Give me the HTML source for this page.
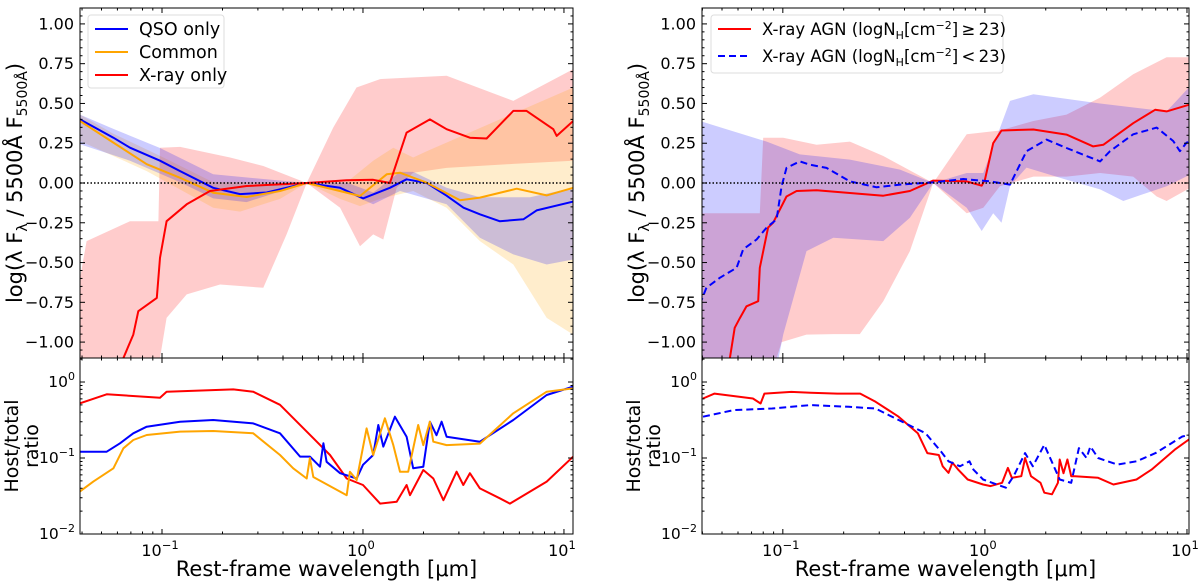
<!DOCTYPE html>
<html><head><meta charset="utf-8"><style>
html,body{margin:0;padding:0;background:#fff;}
svg{display:block;font-family:"DejaVu Sans","Liberation Sans",sans-serif;}
</style></head><body>
<svg id="fig" width="1200" height="586" viewBox="0 0 1200 586" xmlns="http://www.w3.org/2000/svg"></svg>
<script>
// ---- Left top panel data (x = log10 wavelength [um], y = log ratio) ----
const qsoX = [-1.408,-1.242,-1.159,-1.01,-0.91,-0.745,-0.612,-0.479,-0.28,-0.114,0.0,0.134,0.217,0.317,0.416,0.5,0.582,0.68,0.798,0.864,1.046];
const qsoY = [0.40,0.285,0.222,0.14,0.075,-0.03,-0.07,-0.06,0,-0.03,-0.097,-0.03,0.023,0,-0.08,-0.155,-0.197,-0.24,-0.228,-0.172,-0.117];
const comX = [-1.408,-1.242,-1.076,-0.91,-0.745,-0.579,-0.413,-0.28,-0.148,-0.015,0.118,0.184,0.317,0.483,0.582,0.765,0.914,1.046];
const comY = [0.39,0.254,0.118,0.033,-0.061,-0.088,-0.05,0,-0.04,-0.082,0.055,0.065,0.002,-0.109,-0.092,-0.036,-0.078,-0.03];
const xrX = [-1.192,-1.143,-1.118,-1.026,-1.01,-0.977,-0.877,-0.761,-0.579,-0.28,-0.081,0.051,0.134,0.217,0.333,0.416,0.532,0.615,0.748,0.814,0.947,0.964,1.046];
const xrY = [-1.1,-0.953,-0.806,-0.722,-0.47,-0.24,-0.134,-0.05,-0.019,0,0.017,0.02,0.0,0.317,0.40,0.338,0.285,0.28,0.453,0.453,0.338,0.296,0.39];
// bands
const qsoBandUpX = [-1.408,-1.242,-1.01,-0.745,-0.28,-0.081,0.051,0.184,0.25,0.416,0.582,0.831,1.046];
const qsoBandUpY = [0.43,0.34,0.22,0.055,0,0.003,-0.06,0.07,0.07,-0.03,-0.09,-0.09,-0.03];
const qsoBandLoX = [-1.408,-1.159,-0.91,-0.745,-0.579,-0.28,-0.081,0.051,0.184,0.416,0.582,0.748,0.914,1.046];
const qsoBandLoY = [0.243,0.14,0.005,-0.097,-0.12,0,-0.06,-0.134,-0.05,-0.134,-0.344,-0.449,-0.512,-0.48];
const comBandUpX = [-1.408,-1.242,-0.993,-0.745,-0.413,-0.28,-0.081,0.051,0.151,0.25,0.317,1.046];
const comBandUpY = [0.43,0.31,0.16,0.005,0.005,0,0.005,0.14,0.222,0.16,0.2,0.6];
const comBandLoX = [-1.408,-1.076,-0.745,-0.612,-0.413,-0.28,-0.114,-0.015,0.085,0.25,0.416,0.582,0.748,0.914,1.046];
const comBandLoY = [0.264,0.075,-0.155,-0.18,-0.1,0,-0.1,-0.145,-0.1,-0.05,-0.155,-0.365,-0.512,-0.848,-0.953];
const xrBandUpX = [-1.408,-1.375,-1.159,-1.018,-1.01,-0.91,-0.661,-0.496,-0.28,-0.148,-0.032,0.085,0.416,0.748,1.046];
const xrBandUpY = [-0.6,-0.365,-0.24,-0.24,0.222,0.227,0.16,0.107,0,0.348,0.6,0.653,0.674,0.516,0.716];
const xrBandLoX = [-1.408,-1.01,-0.977,-0.877,-0.711,-0.496,-0.38,-0.28,-0.114,-0.015,0.051,0.101,0.168,0.25,0.416,0.748,1.046];
const xrBandLoY = [-1.1,-1.1,-0.848,-0.7,-0.638,-0.659,-0.323,0,-0.155,-0.397,-0.323,-0.355,-0.03,0.065,0.095,0.12,0.14];

// ---- Right top panel data ----
const nhHiX = [-1.262,-1.238,-1.213,-1.180,-1.122,-1.114,-1.073,-1.048,-0.982,-0.932,-0.833,-0.668,-0.503,-0.371,-0.256,-0.09,-0.016,0.0,0.041,0.082,0.24,0.404,0.536,0.586,0.734,0.842,0.899,1.031];
const nhHiY = [-1.1,-0.91,-0.85,-0.775,-0.743,-0.533,-0.28,-0.25,-0.085,-0.05,-0.045,-0.063,-0.08,-0.05,0.015,0.01,-0.017,0.02,0.25,0.33,0.336,0.304,0.23,0.24,0.376,0.46,0.45,0.5];
const nhLoX = [-1.411,-1.378,-1.312,-1.229,-1.196,-1.130,-1.08,-1.031,-1.006,-0.982,-0.916,-0.866,-0.784,-0.668,-0.536,-0.42,-0.256,-0.107,0.025,0.124,0.206,0.305,0.404,0.57,0.619,0.734,0.850,0.932,0.965,0.998,1.031];
const nhLoY = [-0.764,-0.659,-0.596,-0.533,-0.417,-0.355,-0.28,-0.228,-0.02,0.095,0.136,0.115,0.095,0.01,-0.027,-0.01,0.004,0.025,0.01,-0.01,0.20,0.273,0.22,0.136,0.20,0.306,0.348,0.264,0.2,0.254,0.264];
const nhLoBandUpX = [-1.411,-1.08,-0.916,-0.668,-0.42,-0.256,-0.09,-0.008,0.124,0.24,0.57,0.899,1.031];
const nhLoBandUpY = [0.39,0.26,0.18,0.147,0.084,0,0.063,0.063,0.516,0.558,0.5,0.45,0.63];
const nhLoBandLoX = [-1.411,-1.021,-0.998,-0.883,-0.75,-0.503,-0.371,-0.256,-0.09,-0.016,0.041,0.082,0.124,0.206,0.404,0.57,0.685,0.899,1.031];
const nhLoBandLoY = [-1.1,-1.1,-0.953,-0.428,-0.344,-0.365,-0.218,0,-0.155,-0.302,-0.19,-0.25,-0.02,0.097,0.02,-0.04,-0.113,-0.02,0.063];
const nhHiBandUpX = [-1.411,-1.114,-1.097,-0.998,-0.833,-0.668,-0.503,-0.256,-0.09,0.074,0.24,0.404,0.57,0.734,0.899,1.031];
const nhHiBandUpY = [-0.19,-0.19,0.285,0.285,0.24,0.26,0.17,0,0.306,0.33,0.39,0.43,0.537,0.684,0.79,0.79];
const nhHiBandLoX = [-1.411,-1.031,-1.006,-0.883,-0.75,-0.619,-0.503,-0.371,-0.256,-0.09,-0.008,0.074,0.24,0.404,0.57,0.734,0.85,0.899,1.031];
const nhHiBandLoY = [-1.1,-1.1,-1.0,-0.953,-0.95,-0.95,-0.743,-0.428,0,-0.19,-0.155,-0.02,0.04,0.04,0.063,0.04,-0.085,-0.113,-0.02];

// ---- Bottom panels (y = log10 host/total ratio) ----
const hrRedX = [-1.408,-1.275,-1.010,-0.977,-0.645,-0.546,-0.413,-0.247,-0.164,-0.081,0.0,0.085,0.168,0.217,0.234,0.300,0.350,0.400,0.466,0.499,0.532,0.582,0.681,0.731,0.914,1.046];
const hrRedY = [-0.28,-0.162,-0.206,-0.127,-0.097,-0.127,-0.3,-0.74,-0.96,-1.27,-1.355,-1.6,-1.575,-1.355,-1.49,-1.158,-1.27,-1.555,-1.18,-1.355,-1.2,-1.4,-1.53,-1.6,-1.311,-0.982];
const hrBlueX = [-1.408,-1.275,-1.209,-1.143,-1.076,-0.91,-0.745,-0.546,-0.413,-0.313,-0.264,-0.214,-0.197,-0.181,-0.114,-0.031,0.0,0.051,0.076,0.101,0.159,0.217,0.250,0.300,0.333,0.366,0.391,0.416,0.582,0.748,0.914,1.046];
const hrBlueY = [-0.917,-0.917,-0.807,-0.675,-0.588,-0.522,-0.5,-0.544,-0.675,-0.982,-0.982,-1.114,-0.807,-1.05,-1.2,-1.27,-1.09,-0.96,-0.566,-0.85,-0.456,-0.72,-1.136,-1.114,-0.522,-0.7,-0.522,-0.72,-0.785,-0.5,-0.171,-0.06];
const hrOrX = [-1.408,-1.342,-1.242,-1.192,-1.143,-1.076,-0.91,-0.745,-0.546,-0.413,-0.347,-0.28,-0.264,-0.247,-0.081,-0.065,-0.031,0.018,0.051,0.109,0.151,0.184,0.225,0.275,0.300,0.333,0.350,0.416,0.582,0.748,0.914,1.046];
const hrOrY = [-1.44,-1.31,-1.136,-0.872,-0.763,-0.697,-0.653,-0.645,-0.675,-0.96,-1.136,-1.27,-1.0,-1.25,-1.49,-1.18,-1.29,-0.61,-0.96,-0.478,-0.83,-1.18,-1.18,-0.566,-0.83,-0.522,-0.785,-0.83,-0.81,-0.412,-0.127,-0.083];
const hrHiX = [-1.395,-1.338,-1.148,-1.110,-1.091,-0.958,-0.863,-0.731,-0.617,-0.541,-0.427,-0.332,-0.285,-0.228,-0.209,-0.180,-0.161,-0.133,-0.085,-0.009,0.028,0.085,0.114,0.133,0.180,0.199,0.228,0.275,0.294,0.332,0.361,0.370,0.389,0.408,0.427,0.446,0.560,0.636,0.750,0.825,0.939,1.053];
const hrHiY = [-0.217,-0.152,-0.217,-0.283,-0.152,-0.13,-0.14,-0.152,-0.152,-0.26,-0.457,-0.674,-0.935,-0.96,-1.109,-1.196,-1.06,-1.15,-1.283,-1.348,-1.37,-1.326,-1.13,-1.26,-1.24,-1.0,-1.24,-1.326,-1.457,-1.478,-1.326,-1.02,-1.2,-1.02,-1.239,-1.239,-1.26,-1.348,-1.283,-1.152,-0.891,-0.674];
const hrLoX = [-1.395,-1.243,-1.053,-0.863,-0.674,-0.541,-0.427,-0.294,-0.218,-0.180,-0.123,-0.076,-0.057,-0.009,0.104,0.142,0.199,0.237,0.294,0.370,0.427,0.465,0.503,0.522,0.560,0.655,0.750,0.844,0.977,1.053];
const hrLoY = [-0.457,-0.37,-0.348,-0.304,-0.326,-0.348,-0.5,-0.674,-0.913,-1.043,-1.109,-1.043,-1.152,-1.283,-1.391,-1.239,-0.935,-1.109,-0.826,-1.283,-1.326,-0.87,-1.0,-0.848,-1.0,-1.087,-1.043,-0.935,-0.717,-0.674];

const yTicks = [1.0,0.75,0.5,0.25,0.0,-0.25,-0.5,-0.75,-1.0];
const yTickLabels = ["1.00","0.75","0.50","0.25","0.00","\u22120.25","\u22120.50","\u22120.75","\u22121.00"];
const xDecades = [-1,0,1];
const hrDecades = [0,-1,-2];

const NS = "http://www.w3.org/2000/svg";
const svg = document.getElementById('fig');
function mk(tag, attrs, parent){const e=document.createElementNS(NS,tag);for(const k in attrs)e.setAttribute(k,attrs[k]);(parent||svg).appendChild(e);return e;}

const TOP={y0:8,y1:358,vmin:-1.1,vmax:1.1};
const BOT={y0:358,y1:534,vmin:-2,vmax:0.316};
const LEFT={x0:80,x1:573,lmin:-1.408,lmax:1.045};
const RIGHT={x0:702,x1:1189,lmin:-1.40,lmax:1.01};

function xs(p,l){return p.x0+(l-p.lmin)/(p.lmax-p.lmin)*(p.x1-p.x0);}
function ys(r,v){return r.y1-(v-r.vmin)/(r.vmax-r.vmin)*(r.y1-r.y0);}

function clipFor(p,r,id){const c=mk('clipPath',{id:id});mk('rect',{x:p.x0,y:r.y0,width:p.x1-p.x0,height:r.y1-r.y0},c);return 'url(#'+id+')';}

function band(p,r,ux,uy,lx,ly,color,name,clip){
  let pts=[];for(let i=0;i<ux.length;i++)pts.push(xs(p,ux[i]).toFixed(1)+','+ys(r,uy[i]).toFixed(1));
  for(let i=lx.length-1;i>=0;i--)pts.push(xs(p,lx[i]).toFixed(1)+','+ys(r,ly[i]).toFixed(1));
  const e=mk('polygon',{points:pts.join(' '),fill:color,'fill-opacity':0.2,stroke:'none','clip-path':clip});
  
  
}
function line(p,r,X,Y,color,name,clip,dash){
  let d='';for(let i=0;i<X.length;i++)d+=(i?'L':'M')+xs(p,X[i]).toFixed(1)+','+ys(r,Y[i]).toFixed(1);
  const a={d:d,fill:'none',stroke:color,'stroke-width':2,'stroke-linejoin':'round','clip-path':clip};
  if(dash)a['stroke-dasharray']=dash;
  const e=mk('path',a);
  
  
}
function txt(x,y,s,attrs,name){const t=mk('text',Object.assign({x:x,y:y,'font-size':15,fill:'#000'},attrs||{}));t.textContent=s;return t;}

function frame(p,showLabels,prefix){
  const g=mk('g',{});
  
  
  for(let v=-1.1;v<=1.1001;v+=0.05){
    const y=ys(TOP,v);const major=Math.abs(Math.round(v*4)/4-v)<1e-6;
    const L=major?5:2.5;
    mk('line',{x1:p.x0,x2:p.x0+L,y1:y,y2:y,stroke:'#000','stroke-width':1},g);
    mk('line',{x1:p.x1,x2:p.x1-L,y1:y,y2:y,stroke:'#000','stroke-width':1},g);
  }
  yTicks.forEach((v,i)=>{txt(p.x0-6,ys(TOP,v)+5.5,yTickLabels[i],{'text-anchor':'end','font-size':16},prefix+'-ytick-label');});
  for(let dec=-2;dec<=1;dec++){for(let m=1;m<10;m++){
    const l=dec+Math.log10(m);if(l<p.lmin||l>p.lmax)continue;
    const x=xs(p,l);const L=m===1?5:2.5;
    [TOP.y1,BOT.y1].forEach(yb=>mk('line',{x1:x,x2:x,y1:yb,y2:yb-L,stroke:'#000','stroke-width':1},g));
    [TOP.y0,BOT.y0].forEach(yt=>mk('line',{x1:x,x2:x,y1:yt,y2:yt+L,stroke:'#000','stroke-width':1},g));
  }}
  for(let dec=-2;dec<=0;dec++){for(let m=1;m<10;m++){
    const l=dec+Math.log10(m);if(l>BOT.vmax)continue;const y=ys(BOT,l);const L=m===1?5:2.5;
    mk('line',{x1:p.x0,x2:p.x0+L,y1:y,y2:y,stroke:'#000','stroke-width':1},g);
    mk('line',{x1:p.x1,x2:p.x1-L,y1:y,y2:y,stroke:'#000','stroke-width':1},g);
  }}
  hrDecades.forEach(d=>{const t=txt(p.x0-5,ys(BOT,d)+5,'10',{'text-anchor':'end','font-size':15.5},prefix+'-hr-tick-label');const s=mk('tspan',{dy:-7,'font-size':11},t);s.textContent=d===0?'0':'\u2212'+(-d);});
  xDecades.forEach(d=>{const t=txt(xs(p,d)-2,BOT.y1+22,'10',{'text-anchor':'middle','font-size':16},prefix+'-xtick-label');const s=mk('tspan',{dy:-7,'font-size':11.5},t);s.textContent=d<0?'\u2212'+(-d):String(d);});
  mk('rect',{x:p.x0,y:TOP.y0,width:p.x1-p.x0,height:TOP.y1-TOP.y0,fill:'none',stroke:'#000','stroke-width':1},g);
  mk('rect',{x:p.x0,y:BOT.y0,width:p.x1-p.x0,height:BOT.y1-BOT.y0,fill:'none',stroke:'#000','stroke-width':1},g);
  const z=mk('line',{x1:p.x0,x2:p.x1,y1:ys(TOP,0),y2:ys(TOP,0),stroke:'#000','stroke-width':1.5,'stroke-dasharray':'1.5,2'});
  
  txt((p.x0+p.x1)/2,BOT.y1+42,'Rest-frame wavelength [\u03bcm]',{'text-anchor':'middle','font-size':21},prefix+'-x-axis-title');
  const yl=txt(0,0,'',{'font-size':21,'text-anchor':'middle',transform:'translate('+(p.x0-58)+','+ys(TOP,0)+') rotate(-90)'},prefix+'-y-axis-title');
  yl.appendChild(document.createTextNode('log(\u03bb F'));
  let s=mk('tspan',{dy:5,'font-size':14},yl);s.textContent='\u03bb';
  s=mk('tspan',{dy:-5},yl);s.textContent=' / 5500\u00c5 F';
  s=mk('tspan',{dy:5,'font-size':14},yl);s.textContent='5500\u00c5';
  s=mk('tspan',{dy:-5},yl);s.textContent=')';
  txt(0,0,'Host/total',{'font-size':19,'text-anchor':'middle',transform:'translate('+(p.x0-62)+','+((BOT.y0+BOT.y1)/2)+') rotate(-90)'},prefix+'-hr-axis-title');
  txt(0,0,'ratio',{'font-size':19,'text-anchor':'middle',transform:'translate('+(p.x0-42)+','+((BOT.y0+BOT.y1)/2)+') rotate(-90)'},prefix+'-hr-axis-title-2');
}

const cLT=clipFor(LEFT,TOP,'clt'), cLB=clipFor(LEFT,BOT,'clb'), cRT=clipFor(RIGHT,TOP,'crt'), cRB=clipFor(RIGHT,BOT,'crb');

band(LEFT,TOP,xrBandUpX,xrBandUpY,xrBandLoX,xrBandLoY,'#ff0000','xray-only-band',cLT);
band(LEFT,TOP,comBandUpX,comBandUpY,comBandLoX,comBandLoY,'#ffa500','common-band',cLT);
band(LEFT,TOP,qsoBandUpX,qsoBandUpY,qsoBandLoX,qsoBandLoY,'#0000ff','qso-only-band',cLT);
line(LEFT,TOP,qsoX,qsoY,'#0000ff','qso-only-line',cLT);
line(LEFT,TOP,comX,comY,'#ffa500','common-line',cLT);
line(LEFT,TOP,xrX,xrY,'#ff0000','xray-only-line',cLT);
line(LEFT,BOT,hrRedX,hrRedY,'#ff0000','xray-only-host-ratio',cLB);
line(LEFT,BOT,hrBlueX,hrBlueY,'#0000ff','qso-only-host-ratio',cLB);
line(LEFT,BOT,hrOrX,hrOrY,'#ffa500','common-host-ratio',cLB);

band(RIGHT,TOP,nhHiBandUpX,nhHiBandUpY,nhHiBandLoX,nhHiBandLoY,'#ff0000','high-nh-band',cRT);
band(RIGHT,TOP,nhLoBandUpX,nhLoBandUpY,nhLoBandLoX,nhLoBandLoY,'#0000ff','low-nh-band',cRT);
line(RIGHT,TOP,nhHiX,nhHiY,'#ff0000','high-nh-line',cRT);
line(RIGHT,TOP,nhLoX,nhLoY,'#0000ff','low-nh-line',cRT,'7,4');
line(RIGHT,BOT,hrHiX,hrHiY,'#ff0000','high-nh-host-ratio',cRB);
line(RIGHT,BOT,hrLoX,hrLoY,'#0000ff','low-nh-host-ratio',cRB,'7,4');

frame(LEFT,true,'left');
frame(RIGHT,true,'right');

function legend(x,y,w,h,entries,name,fs){
  const g=mk('g',{});
  mk('rect',{x:x,y:y,width:w,height:h,fill:'#fff','fill-opacity':0.8,stroke:'#ddd','stroke-width':1,rx:3},g);
  entries.forEach((e,i)=>{
    const yy=y+14+i*e.dy;
    const a={x1:x+7,x2:x+40,y1:yy,y2:yy,stroke:e.c,'stroke-width':2};if(e.dash)a['stroke-dasharray']=e.dash;
    const l=mk('line',a,g);
    const t=mk('text',{x:x+51,y:yy+6,'font-size':fs,fill:'#000'},g);
    
    e.parts.forEach(p=>{const s=mk('tspan',p.a||{},t);s.textContent=p.t;});
  });
}
legend(88,15,136,73,[
 {c:'#0000ff',dy:23,parts:[{t:'QSO only'}]},
 {c:'#ffa500',dy:23,parts:[{t:'Common'}]},
 {c:'#ff0000',dy:23,parts:[{t:'X-ray only'}]}],'left-legend',17.5);
legend(711,15,292,58,[
 {c:'#ff0000',dy:27,parts:[{t:'X-ray AGN (logN'},{t:'H',a:{dy:4,'font-size':11}},{t:'[cm',a:{dy:-4}},{t:'\u22122',a:{dy:-6,'font-size':11}},{t:']\u2009\u2265\u200923)',a:{dy:6}}]},
 {c:'#0000ff',dash:'7,4',dy:27,parts:[{t:'X-ray AGN (logN'},{t:'H',a:{dy:4,'font-size':11}},{t:'[cm',a:{dy:-4}},{t:'\u22122',a:{dy:-6,'font-size':11}},{t:']\u2009<\u200923)',a:{dy:6}}]}],'right-legend',16.5);
</script>
</body></html>
